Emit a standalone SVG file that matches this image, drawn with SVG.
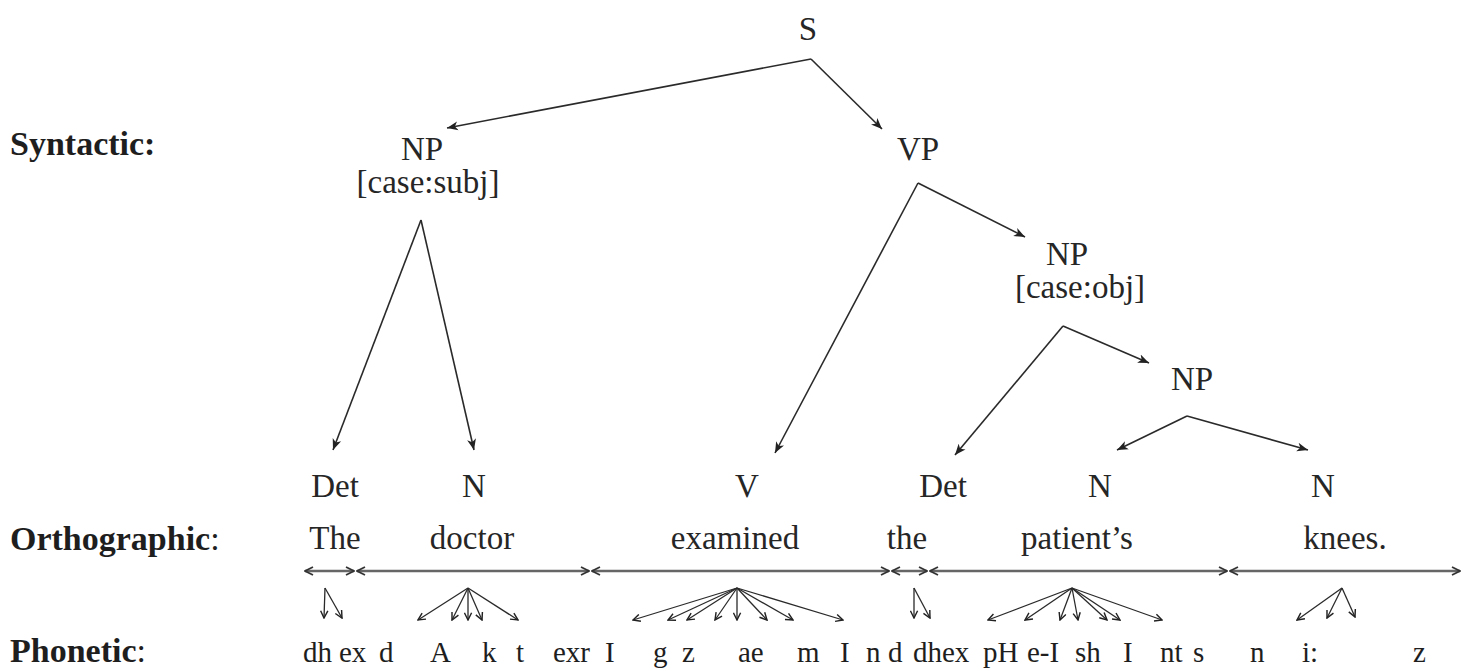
<svg xmlns="http://www.w3.org/2000/svg" width="1470" height="671" viewBox="0 0 1470 671">
  <style>
    text { font-family: "Liberation Serif", "Times New Roman", serif; fill: #1e1e1e; }
    .lvl { font-size: 34px; font-weight: bold; }
    .lvl tspan.c { font-weight: normal; }
    .node { font-size: 33px; text-anchor: middle; fill: #262626; }
    .word { font-size: 33px; text-anchor: middle; fill: #262626; }
    .ph { font-size: 29px; }
    .tree line { stroke: #2a2a2a; stroke-width: 1.6; fill: none; marker-end: url(#tip); }
    .span line { stroke: #666; stroke-width: 2.6; marker-start: url(#chev); marker-end: url(#chev); }
    .fan line { stroke: #2a2a2a; stroke-width: 1.3; marker-end: url(#small); }
  </style>
  <defs>
    <marker id="tip" viewBox="0 0 12 10" refX="11" refY="5" markerWidth="12" markerHeight="10" markerUnits="userSpaceOnUse" orient="auto">
      <path d="M0,0.5 L11,5 L0,9.5 L3,5 z" fill="#222"/>
    </marker>
    <marker id="chev" viewBox="0 0 10 10" refX="9" refY="5" markerWidth="10" markerHeight="10" markerUnits="userSpaceOnUse" orient="auto-start-reverse">
      <path d="M1,1 L9,5 L1,9" fill="none" stroke="#333" stroke-width="1.8"/>
    </marker>
    <marker id="small" viewBox="0 0 10 10" refX="9" refY="5" markerWidth="9" markerHeight="9" markerUnits="userSpaceOnUse" orient="auto">
      <path d="M1,1 L9,5 L1,9" fill="none" stroke="#222" stroke-width="1.6"/>
    </marker>
  </defs>

  <!-- level labels -->
  <g id="level-labels">
    <text class="lvl" x="10" y="155">Syntactic:</text>
    <text class="lvl" x="10" y="550">Orthographic<tspan class="c">:</tspan></text>
    <text class="lvl" x="10" y="662">Phonetic<tspan class="c">:</tspan></text>
  </g>

  <!-- syntactic tree nodes -->
  <g id="node-S"><text class="node" x="808" y="40">S</text></g>
  <g id="node-NP-subj">
    <text class="node" x="422" y="160">NP</text>
    <text class="node" x="428" y="193">[case:subj]</text>
  </g>
  <g id="node-VP"><text class="node" x="918" y="160">VP</text></g>
  <g id="node-NP-obj">
    <text class="node" x="1067" y="265">NP</text>
    <text class="node" x="1080" y="298">[case:obj]</text>
  </g>
  <g id="node-NP-poss"><text class="node" x="1192" y="390">NP</text></g>
  <g id="node-Det1"><text class="node" x="335" y="497">Det</text></g>
  <g id="node-N1"><text class="node" x="474" y="497">N</text></g>
  <g id="node-V"><text class="node" x="747" y="497">V</text></g>
  <g id="node-Det2"><text class="node" x="943" y="497">Det</text></g>
  <g id="node-N2"><text class="node" x="1100" y="497">N</text></g>
  <g id="node-N3"><text class="node" x="1323" y="497">N</text></g>

  <!-- orthographic words -->
  <g id="words">
    <text class="word" x="335" y="549">The</text>
    <text class="word" x="472" y="549">doctor</text>
    <text class="word" x="735" y="549">examined</text>
    <text class="word" x="907" y="549">the</text>
    <text class="word" x="1077" y="549">patient’s</text>
    <text class="word" x="1345" y="549">knees.</text>
  </g>

  <!-- phonetic segments -->
  <g id="phones">
    <text class="ph" x="303" y="662">dh</text>
    <text class="ph" x="339" y="662">ex</text>
    <text class="ph" x="379" y="662">d</text>
    <text class="ph" x="430" y="662">A</text>
    <text class="ph" x="482" y="662">k</text>
    <text class="ph" x="516" y="662">t</text>
    <text class="ph" x="553" y="662">exr</text>
    <text class="ph" x="605" y="662">I</text>
    <text class="ph" x="653" y="662">g</text>
    <text class="ph" x="682" y="662">z</text>
    <text class="ph" x="738" y="662">ae</text>
    <text class="ph" x="797" y="662">m</text>
    <text class="ph" x="840" y="662">I</text>
    <text class="ph" x="866" y="662">n</text>
    <text class="ph" x="888" y="662">d</text>
    <text class="ph" x="913" y="662">dhex</text>
    <text class="ph" x="983" y="662">pH</text>
    <text class="ph" x="1027" y="662">e-I</text>
    <text class="ph" x="1075" y="662">sh</text>
    <text class="ph" x="1123" y="662">I</text>
    <text class="ph" x="1160" y="662">nt</text>
    <text class="ph" x="1193" y="662">s</text>
    <text class="ph" x="1250" y="662">n</text>
    <text class="ph" x="1302" y="662">i:</text>
    <text class="ph" x="1413" y="662">z</text>
  </g>

  <!-- connectors -->
  <g id="connectors">
    <g class="tree">
      <line x1="811" y1="59" x2="447" y2="128"/>
      <line x1="811" y1="59" x2="882" y2="129"/>
      <line x1="421" y1="220" x2="333" y2="450"/>
      <line x1="421" y1="220" x2="474" y2="450"/>
      <line x1="918" y1="183" x2="775" y2="453"/>
      <line x1="918" y1="183" x2="1025" y2="237"/>
      <line x1="1063" y1="326" x2="955" y2="455"/>
      <line x1="1063" y1="326" x2="1149" y2="363"/>
      <line x1="1187" y1="416" x2="1117" y2="450"/>
      <line x1="1187" y1="416" x2="1308" y2="450"/>
    </g>
    <g class="span">
      <line x1="305" y1="571" x2="354" y2="571"/>
      <line x1="357" y1="571" x2="589" y2="571"/>
      <line x1="592" y1="571" x2="889" y2="571"/>
      <line x1="892" y1="571" x2="927" y2="571"/>
      <line x1="930" y1="571" x2="1227" y2="571"/>
      <line x1="1230" y1="571" x2="1460" y2="571"/>
    </g>
    <g class="fan">
      <line x1="325" y1="588" x2="324" y2="618"/>
      <line x1="325" y1="588" x2="342" y2="618"/>

      <line x1="468" y1="588" x2="418" y2="620"/>
      <line x1="468" y1="588" x2="452" y2="620"/>
      <line x1="468" y1="588" x2="468" y2="620"/>
      <line x1="468" y1="588" x2="482" y2="620"/>
      <line x1="468" y1="588" x2="518" y2="620"/>

      <line x1="737" y1="588" x2="633" y2="620"/>
      <line x1="737" y1="588" x2="668" y2="620"/>
      <line x1="737" y1="588" x2="687" y2="620"/>
      <line x1="737" y1="588" x2="715" y2="620"/>
      <line x1="737" y1="588" x2="737" y2="620"/>
      <line x1="737" y1="588" x2="767" y2="620"/>
      <line x1="737" y1="588" x2="793" y2="620"/>
      <line x1="737" y1="588" x2="843" y2="620"/>

      <line x1="914" y1="588" x2="914" y2="618"/>
      <line x1="914" y1="588" x2="930" y2="618"/>

      <line x1="1072" y1="588" x2="988" y2="620"/>
      <line x1="1072" y1="588" x2="1025" y2="620"/>
      <line x1="1072" y1="588" x2="1060" y2="620"/>
      <line x1="1072" y1="588" x2="1078" y2="620"/>
      <line x1="1072" y1="588" x2="1107" y2="620"/>
      <line x1="1072" y1="588" x2="1120" y2="620"/>
      <line x1="1072" y1="588" x2="1162" y2="620"/>

      <line x1="1342" y1="588" x2="1297" y2="620"/>
      <line x1="1342" y1="588" x2="1327" y2="618"/>
      <line x1="1342" y1="588" x2="1355" y2="617"/>
    </g>
  </g>
</svg>
